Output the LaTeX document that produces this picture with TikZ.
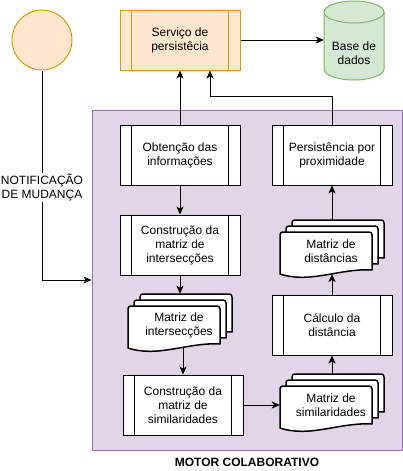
\documentclass[tikz,border=0pt]{standalone}
\usepackage{fontspec}
\setmainfont{Liberation Sans}
\usetikzlibrary{arrows.meta,calc}
\definecolor{orfill}{HTML}{FFE6CC}
\definecolor{ordraw}{HTML}{D79B00}
\definecolor{grfill}{HTML}{D5E8D4}
\definecolor{grdraw}{HTML}{82B366}
\definecolor{pufill}{HTML}{E1D5E7}
\definecolor{pudraw}{HTML}{9673A6}
\tikzset{
  txt/.style={font=\fontsize{12}{14}\selectfont, align=center, inner sep=0pt},
  procbox/.style={txt, draw=black, fill=white, line width=1pt, minimum width=120pt, minimum height=60pt},
  arr/.style={line width=1pt, -{Stealth[length=8pt,width=7pt,inset=2pt]}},
  docline/.style={draw=black, fill=white, line width=1.5pt, line join=round},
}
\newcommand\onedoc[2]{%
  \begin{scope}[shift={(#1,#2)}]
    \filldraw[docline] (0,42) -- (0,3) .. controls (0,1) and (1,0) .. (3,0) -- (89,0)
      .. controls (91,0) and (92,1) .. (92,3) -- (92,38)
      .. controls (60,36) and (30,52) .. (0,42) -- cycle;
  \end{scope}}
\newcommand\multidoc[4]{%
  \onedoc{#1+12}{#2}
  \onedoc{#1+6}{#2+6}
  \onedoc{#1}{#2+12}
  \node[minimum width=104pt, minimum height=58pt, inner sep=0pt] (#3) at (#1+52,#2+29) {};
  \node[txt] (#3t) at (#1+51,#2+31) {#4};}
\begin{document}
\begin{tikzpicture}[x=1pt,y=-1pt]
\useasboundingbox (0,0) rectangle (403,471);
% container
\node[draw=pudraw, fill=pufill, line width=1pt, minimum width=310pt, minimum height=340pt, inner sep=0pt] (motor) at (247,280) {};
\node[txt, font=\fontsize{12}{14}\selectfont\bfseries] (motort) at (247,462) {MOTOR COLABORATIVO};
% circle
\node[circle, draw=ordraw, fill=orfill, line width=1pt, minimum size=60pt, inner sep=0pt] (circ) at (42,40) {};
% servico
\node[procbox, draw=ordraw, fill=orfill] (serv) at (180,40) {Serviço de\\persistêcia};
% database
\fill[grfill] (324,12) rectangle (384,69);
\fill[grfill] (354,69) ellipse[x radius=30, y radius=11];
\draw[grdraw, line width=1pt] (324,12) -- (324,69) arc[start angle=180, end angle=0, x radius=30, y radius=11] -- (384,12);
\filldraw[grdraw, fill=grfill, line width=1pt] (354,12) ellipse[x radius=30, y radius=11];
\node[minimum width=60pt, minimum height=80pt, inner sep=0pt] (db) at (354,40) {};
\node[txt] (dbt) at (354,53) {Base de\\dados};
% process boxes
\node[procbox] (obt) at (180,155) {Obtenção das\\informações};
\node[procbox] (cinter) at (180,245) {Construção da\\matriz de\\intersecções};
\node[procbox] (csim) at (183,405) {Construção da\\matriz de\\similaridades};
\node[procbox] (pers) at (332,155) {Persistência por\\proximidade};
\node[procbox] (calc) at (332,325) {Cálculo da\\distância};
\foreach \n/\c in {serv/ordraw,obt/black,cinter/black,csim/black,pers/black,calc/black}{
  \draw[\c, line width=1pt] ([xshift=12pt]\n.north west) -- ([xshift=12pt]\n.south west);
  \draw[\c, line width=1pt] ([xshift=-12pt]\n.north east) -- ([xshift=-12pt]\n.south east);
}
% multi documents
\multidoc{128}{294}{minter}{Matriz de\\intersecções}
\multidoc{280}{220}{mdist}{Matriz de\\distâncias}
\multidoc{280}{374}{msim}{Matriz de\\similaridades}
\coordinate (minterb) at (183,347);
\coordinate (mdistb) at (332,274);
% connectors
\draw[arr] (circ.south) |- (motor.west)
  node[pos=0.28, txt, fill=white, inner sep=1pt] (notif) {NOTIFICAÇÃO\\DE MUDANÇA};
\draw[arr] (serv.east) -- (db.west);
\draw[arr] (obt.north) -- (serv.south);
\draw[arr] (pers.north) -- ++(0,-28) -| ([xshift=30pt]serv.south);
\draw[arr] (obt.south) -- (cinter.north);
\draw[arr] (cinter.south) -- (minter.north);
\draw[arr] (minterb) -- (csim.north);
\draw[arr] (csim.east) -- (csim.east -| msim.west);
\draw[arr] (msim.north) -- (calc.south);
\draw[arr] (calc.north) -- (mdistb);
\draw[arr] (mdist.north) -- (pers.south);
\end{tikzpicture}
\end{document}
